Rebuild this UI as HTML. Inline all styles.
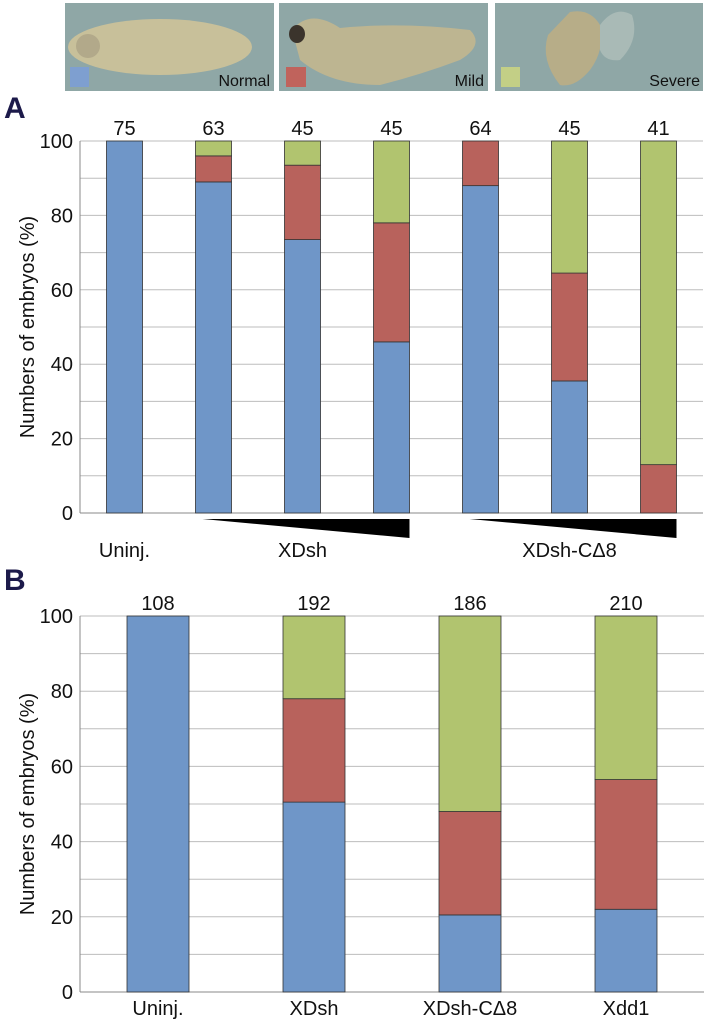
<!DOCTYPE html>
<html><head><meta charset="utf-8"><style>
body{margin:0;background:#fff;}
svg{display:block;font-family:"Liberation Sans",sans-serif;}
</style></head><body>
<svg id="fig" width="707" height="1023" viewBox="0 0 707 1023" xmlns="http://www.w3.org/2000/svg">
<g>
  <g>
    <rect x="65" y="3" width="209" height="88" fill="#8fa7a6"/>
    <ellipse cx="160" cy="47" rx="92" ry="28" fill="#c8c09a"/>
    <circle cx="88" cy="46" r="12" fill="#b2a98a"/>
    <rect x="70" y="67" width="19" height="20" fill="#7e9fd0"/>
    <text x="270" y="86" font-size="16" text-anchor="end" fill="#111">Normal</text>
  </g>
  <g>
    <rect x="279" y="3" width="209" height="88" fill="#8fa7a6"/>
    <path d="M292,30 Q310,8 340,28 Q400,22 470,30 Q485,45 460,60 Q420,75 380,85 Q330,85 300,60 Z" fill="#bdb591"/>
    <ellipse cx="297" cy="34" rx="8" ry="9" fill="#3b342c"/>
    <rect x="286" y="67" width="20" height="20" fill="#c0635c"/>
    <text x="484" y="86" font-size="16" text-anchor="end" fill="#111">Mild</text>
  </g>
  <g>
    <rect x="495" y="3" width="208" height="88" fill="#8fa7a6"/>
    <path d="M570,12 Q590,8 600,25 Q605,50 590,70 Q575,88 560,85 Q540,60 548,35 Z" fill="#b7ad88"/>
    <path d="M600,25 Q615,5 632,15 Q640,40 620,60 Q605,62 600,50 Z" fill="#a9bab6"/>
    <rect x="501" y="67" width="19" height="20" fill="#c3cf86"/>
    <text x="700" y="86" font-size="16" text-anchor="end" fill="#111">Severe</text>
  </g>
</g>
<text x="4" y="118" font-size="30" font-weight="bold" fill="#1c1a4a">A</text>
<text x="4" y="590" font-size="30" font-weight="bold" fill="#1c1a4a">B</text>
<g id="chartA"></g>
<g id="chartB"></g>
</svg>
<script>
const catsA = ["Uninj.","XDsh-1","XDsh-2","XDsh-3","XDshCD8-1","XDshCD8-2","XDshCD8-3"];
const countsA = ["75","63","45","45","64","45","41"];
const normalA = [100,89,73.5,46,88,35.5,0];
const mildA = [0,7,20,32,12,29,13];
const severeA = [0,4,6.5,22,0,35.5,87];
const catsB = ["Uninj.","XDsh","XDsh-C\u03948","Xdd1"];
const countsB = ["108","192","186","210"];
const normalB = [100,50.5,20.5,22];
const mildB = [0,27.5,27.5,34.5];
const severeB = [0,22,52,43.5];
const yTicks = [0,20,40,60,80,100];
const groupLabelsA = ["Uninj.","XDsh","XDsh-C\u03948"];

const NS="http://www.w3.org/2000/svg";
const COLORS=["#6f96c8","#b8625c","#b1c46f"];
function mk(parent,tag,attrs,text){const e=document.createElementNS(NS,tag);for(const k in attrs)e.setAttribute(k,attrs[k]);if(text!==undefined)e.textContent=text;parent.appendChild(e);return e;}

function chart(g,cats,counts,series,top,bottom,left,right,barW){
  const y=v=>bottom-(v/100)*(bottom-top);
  const slot=(right-left)/cats.length;
  const x=i=>left+slot*(i+0.5);
  for(let v=10;v<=100;v+=10){
    const l=mk(g,"line",{x1:left,x2:right,y1:y(v),y2:y(v),stroke:"#bdbdbd","stroke-width":1});
    
    
  }
  const ax=mk(g,"line",{x1:left,x2:left,y1:top,y2:bottom,stroke:"#888"});
  
  
  const bx=mk(g,"line",{x1:left,x2:right,y1:bottom,y2:bottom,stroke:"#888"});
  
  
  yTicks.forEach(t=>{
    const tx=mk(g,"text",{x:left-7,y:y(t)+7,"font-size":20,"text-anchor":"end",fill:"#111"},String(t));
    
    
  });
  const yt=mk(g,"text",{x:0,y:0,"font-size":20,"text-anchor":"middle",fill:"#111",transform:`translate(34,${(top+bottom)/2}) rotate(-90)`},"Numbers of embryos (%)");
  
  
  cats.forEach((c,i)=>{
    let base=0;
    series.forEach((s,k)=>{
      const v=s[i]; if(v<=0) return;
      const r=mk(g,"rect",{x:x(i)-barW/2,y:y(base+v),width:barW,height:y(base)-y(base+v),fill:COLORS[k],stroke:"#333","stroke-width":0.8});
      
      
      base+=v;
    });
    const ct=mk(g,"text",{x:x(i),y:top-6,"font-size":20,"text-anchor":"middle",fill:"#111"},counts[i]);
    
    
  });
  return x;
}
const gA=document.getElementById("chartA");
const xA=chart(gA,catsA,countsA,[normalA,mildA,severeA],141,513,80,703,36);
[[1,3],[4,6]].forEach(([a,b])=>{
  const p=mk(gA,"polygon",{points:`${xA(a)-11},519 ${xA(b)+18},519 ${xA(b)+18},538`,fill:"#000"});
  
  
});
[[0,0],[1,3],[4,6]].forEach(([a,b],k)=>{
  const t=mk(gA,"text",{x:(xA(a)+xA(b))/2,y:557,"font-size":20,"text-anchor":"middle",fill:"#111"},groupLabelsA[k]);
  
  
});
const gB=document.getElementById("chartB");
const xB=chart(gB,catsB,countsB,[normalB,mildB,severeB],616,992,80,704,62);
catsB.forEach((c,i)=>{
  const t=mk(gB,"text",{x:xB(i),y:1015,"font-size":20,"text-anchor":"middle",fill:"#111"},c);
  
  
});
</script>
</body></html>
